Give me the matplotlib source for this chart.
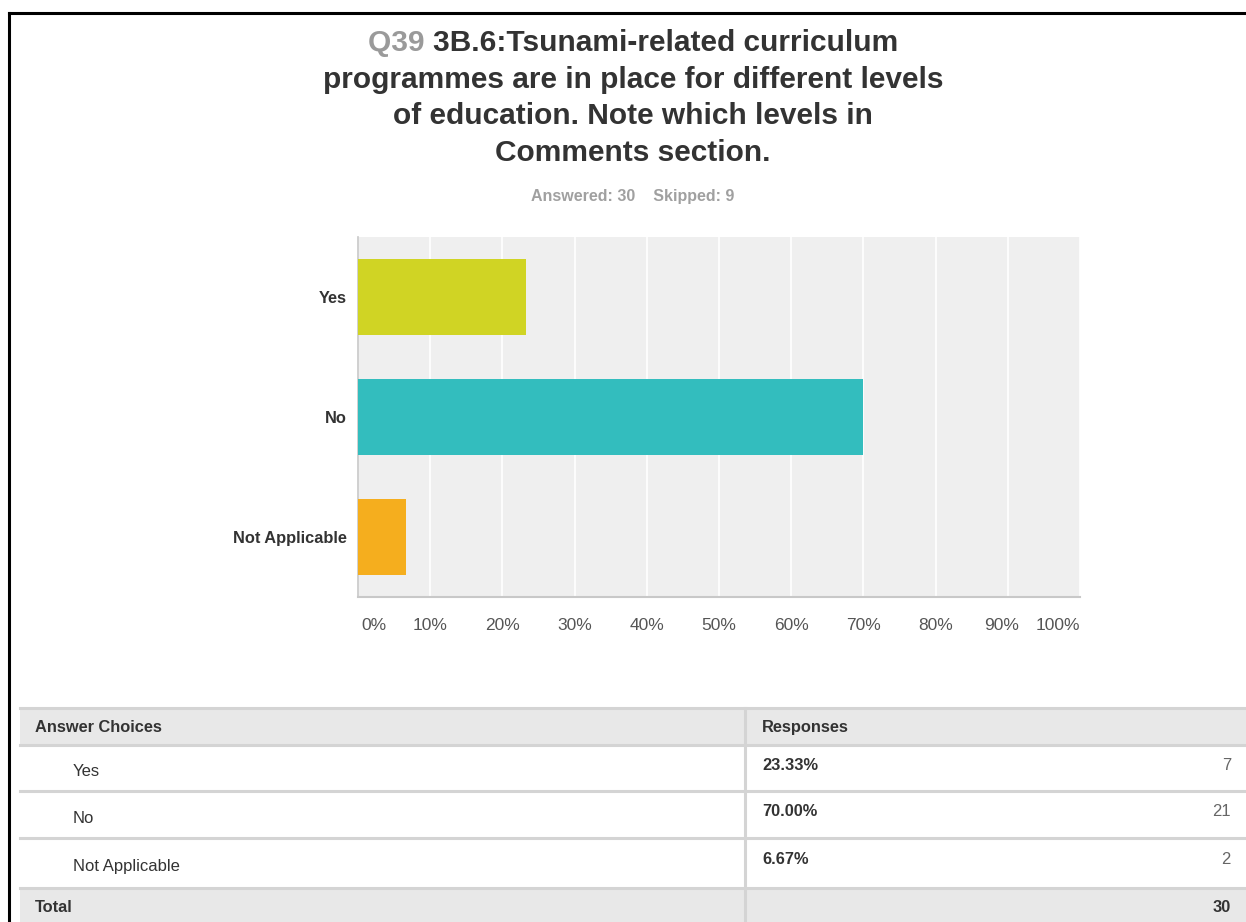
import matplotlib
matplotlib.use("Agg")
import matplotlib.pyplot as plt
from matplotlib.patches import Rectangle
from matplotlib.lines import Line2D

# ---- data ----
categories = ["Yes", "No", "Not Applicable"]
percents = [23.33, 70.00, 6.67]
counts = [7, 21, 2]
total = 30
bar_colors = ["#D0D424", "#33BDBE", "#F5AE1E"]
tick_vals = [0, 10, 20, 30, 40, 50, 60, 70, 80, 90, 100]
tick_labels = ["0%", "10%", "20%", "30%", "40%", "50%", "60%", "70%", "80%", "90%", "100%"]
q_label = "Q39"
title_lines = ["3B.6:Tsunami-related curriculum",
               "programmes are in place for different levels",
               "of education. Note which levels in",
               "Comments section."]
subtitle = "Answered: 30    Skipped: 9"

W, H = 1246, 922
plt.rcParams['font.family'] = ['Liberation Sans', 'DejaVu Sans']
fig = plt.figure(figsize=(W / 100, H / 100), dpi=100)
fig.patch.set_facecolor("white")


def fx(x):
    return x / W


def fy(y):
    return 1 - y / H


# ---- outer border (top & left) ----
fig.add_artist(Line2D([fx(9), fx(W)], [fy(13), fy(13)], color="black", lw=2.2, transform=fig.transFigure))
fig.add_artist(Line2D([fx(9), fx(9)], [fy(13), fy(H)], color="black", lw=2.2, transform=fig.transFigure))

# ---- title ----
dark = "#333333"
grey = "#9a9a9a"
line_y = [43, 80, 116, 153]
cx = 633
tsize = 21.5
t_q = fig.text(0, fy(line_y[0]), q_label + " ", color=grey, fontsize=tsize, fontweight="bold",
               ha="left", va="center")
t_r = fig.text(0, fy(line_y[0]), title_lines[0], color=dark, fontsize=tsize, fontweight="bold",
               ha="left", va="center")
fig.canvas.draw()
r = fig.canvas.get_renderer()
wq = t_q.get_window_extent(r).width
wr = t_r.get_window_extent(r).width
start = cx - (wq + wr) / 2
t_q.set_x(fx(start))
t_r.set_x(fx(start + wq))
for ln, yy in zip(title_lines[1:], line_y[1:]):
    fig.text(fx(cx), fy(yy), ln, color=dark, fontsize=tsize, fontweight="bold", ha="center", va="center")

fig.text(fx(cx), fy(197), subtitle, color="#a0a0a0", fontsize=11.5, fontweight="bold",
         ha="center", va="center")

# ---- bar chart ----
ax = fig.add_axes([fx(358), fy(597), fx(1080) - fx(358), (597 - 237) / H])
ax.set_facecolor("#EFEFEF")
ypos = list(range(len(categories)))
ax.barh(ypos, percents, height=0.64, color=bar_colors, zorder=3)
ax.set_xlim(0, 100)
ax.set_ylim(len(categories) - 0.5, -0.5)
ax.set_xticks(tick_vals)
ax.xaxis.grid(True, color="white", lw=1.2, zorder=1)
ax.set_axisbelow(True)
ax.set_xticklabels([])
ax.tick_params(axis="x", length=0)
ax.set_yticks(ypos)
ax.set_yticklabels(categories, fontsize=11.8, fontweight="bold", color="#333333")
ax.tick_params(axis="y", length=0, pad=8)
for s in ["top", "right"]:
    ax.spines[s].set_visible(False)
ax.spines["left"].set_color("#c8c8c8")
ax.spines["bottom"].set_color("#c8c8c8")
ax.spines["left"].set_linewidth(1.2)
ax.spines["bottom"].set_linewidth(1.5)

for i, (v, lab) in enumerate(zip(tick_vals, tick_labels)):
    if i == 0:
        ha, off = "left", 0.5
    elif i == len(tick_vals) - 1:
        ha, off = "right", 0
    elif i == len(tick_vals) - 2:
        ha, off = "center", -0.8
    else:
        ha, off = "center", 0
    ax.text(v + off, -0.08, lab, transform=ax.get_xaxis_transform(), ha=ha, va="center",
            fontsize=12.5, color="#555555", family=["Liberation Sans Narrow", "Liberation Sans", "DejaVu Sans"])

# ---- table ----
line_col = "#d4d4d4"
hdr_bg = "#E8E8E8"
tl, tr, div = 20, W, 745
rows_y = [708, 745, 791, 838, 888, 922]
fig.add_artist(Rectangle((fx(tl), fy(rows_y[1])), fx(tr) - fx(tl), (rows_y[1] - rows_y[0]) / H,
                         facecolor=hdr_bg, edgecolor="none", transform=fig.transFigure))
fig.add_artist(Rectangle((fx(tl), fy(rows_y[5])), fx(tr) - fx(tl), (rows_y[5] - rows_y[4]) / H,
                         facecolor=hdr_bg, edgecolor="none", transform=fig.transFigure))
for yy in rows_y[:5]:
    fig.add_artist(Line2D([fx(tl), fx(tr)], [fy(yy), fy(yy)], color=line_col, lw=2.2,
                          transform=fig.transFigure))
fig.add_artist(Line2D([fx(div), fx(div)], [fy(rows_y[0]), fy(H)], color=line_col, lw=2.2,
                      transform=fig.transFigure))

bfs = 11.8
rfs = 12
fig.text(fx(35), fy(727), "Answer Choices", fontsize=bfs, fontweight="bold", color="#333333", va="center")
fig.text(fx(762), fy(727), "Responses", fontsize=bfs, fontweight="bold", color="#333333", va="center")
row_text_y = [771, 818, 866]
row_pct_y = [765, 811, 859]
for cat, p, c, ty, py in zip(categories, percents, counts, row_text_y, row_pct_y):
    fig.text(fx(73), fy(ty), cat, fontsize=rfs, color="#333333", va="center")
    fig.text(fx(762), fy(py), f"{p:.2f}%", fontsize=bfs, fontweight="bold", color="#333333", va="center")
    fig.text(fx(1231), fy(py), str(c), fontsize=rfs, color="#666666", va="center", ha="right")
fig.text(fx(35), fy(907), "Total", fontsize=bfs, fontweight="bold", color="#333333", va="center")
fig.text(fx(1231), fy(907), str(total), fontsize=bfs, fontweight="bold", color="#333333", va="center", ha="right")

fig.savefig("out.png", dpi=100, facecolor="white")
